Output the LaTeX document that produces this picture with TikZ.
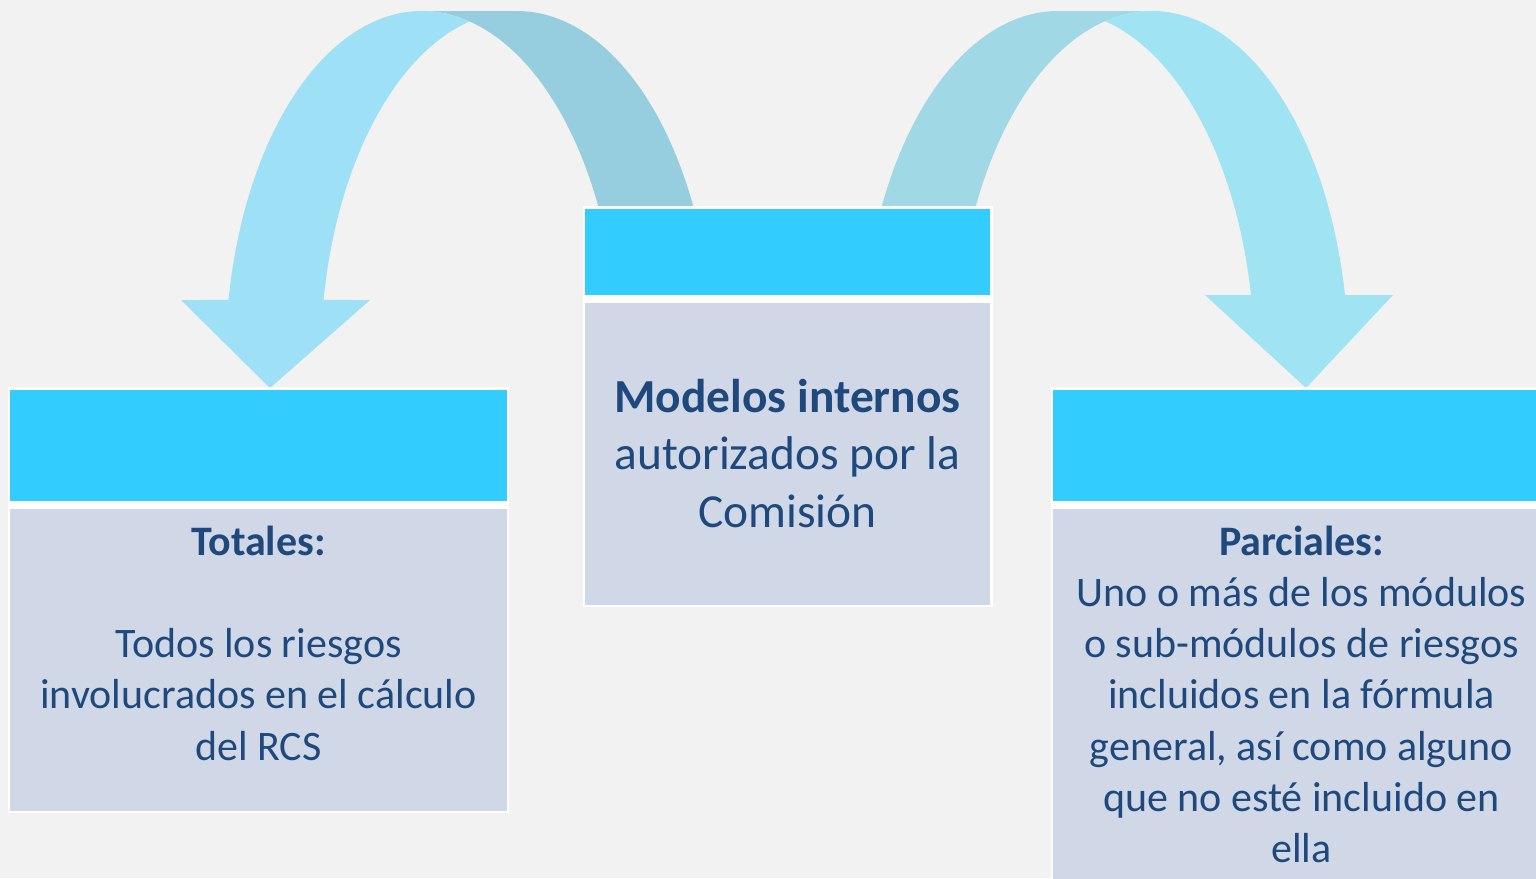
\documentclass[tikz,border=0pt]{standalone}
\usepackage{fontspec}
\setmainfont{Carlito}
\definecolor{bg}{HTML}{F2F2F2}
\definecolor{headc}{HTML}{33CCFF}
\definecolor{bodyc}{HTML}{D0D8E8}
\definecolor{txtc}{HTML}{1F497D}
\definecolor{arrLlight}{HTML}{9EE0F6}
\definecolor{arrLdark}{HTML}{96CEE0}
\definecolor{arrRlight}{HTML}{A0E4F4}
\definecolor{arrRdark}{HTML}{A0D8E6}
\begin{document}
\begin{tikzpicture}[x=0.5pt,y=-0.5pt,
  frame/.style={fill=white},
  head/.style={fill=headc},
  body/.style={fill=bodyc},
  txt/.style={anchor=base, align=flush center, text=txtc, inner sep=0pt},
  smalltxt/.style={font=\fontsize{21}{25.65}\selectfont},
  bigtxt/.style={font=\fontsize{23.7}{28.75}\selectfont},
  arcplot/.style={samples=90, variable=\t}]
\useasboundingbox (0,0) rectangle (1536,878);
\clip (0,0) rectangle (1536,878);
\fill[bg] (0,0) rectangle (1536,878);

% left curved arrow: back (dark) part
\fill[arrLdark] (422,11) -- (517,11)
  -- plot[arcplot, domain=90:13.38] ({517+196.5*cos(\t)},{361-350*sin(\t)})
  -- plot[arcplot, domain=13.38:90] ({422+196.5*cos(\t)},{361-350*sin(\t)})
  -- cycle;
% left curved arrow: front (light) part with head
\fill[arrLlight] plot[arcplot, domain=169.96:76.01] ({422+196.5*cos(\t)},{361-350*sin(\t)})
  -- plot[arcplot, domain=103.99:169.96] ({517+196.5*cos(\t)},{361-350*sin(\t)})
  -- (370,300) -- (270,388) -- (181,300) -- cycle;

% right curved arrow: back (dark) part
\fill[arrRdark] (1152,11) -- (1058,11)
  -- plot[arcplot, domain=90:166.62] ({1058+196.5*cos(\t)},{361-350*sin(\t)})
  -- plot[arcplot, domain=166.62:90] ({1152+196.5*cos(\t)},{361-350*sin(\t)})
  -- cycle;
% right curved arrow: front (light) part with head
\fill[arrRlight] plot[arcplot, domain=103.84:10.87] ({1152+196.5*cos(\t)},{361-350*sin(\t)})
  -- (1393,295) -- (1306,388) -- (1205,295)
  -- plot[arcplot, domain=10.87:76.16] ({1058+196.5*cos(\t)},{361-350*sin(\t)})
  -- cycle;

% left box
\fill[frame] (8,387) rectangle (509,813);
\fill[head] (10,390) rectangle (507,501);
\fill[body] (10,509) rectangle (507,811);
% middle box
\fill[frame] (583,206) rectangle (993,607);
\fill[head] (585,209) rectangle (990,295);
\fill[body] (585,303) rectangle (990,605);
% right box
\fill[frame] (1051,387) rectangle (1560,900);
\fill[head] (1053,390) rectangle (1560,501);
\fill[body] (1053,509) rectangle (1560,900);

\node[txt, smalltxt, text width=240pt] (totales) at (258.5,555)
  {\textbf{Totales:}\\[25.65pt] Todos los riesgos\\ involucrados en el cálculo\\ del RCS};
\node[txt, bigtxt, text width=200pt] (modelos) at (787.5,412)
  {\textbf{Modelos internos}\\ autorizados por la\\ Comisión};
\node[txt, smalltxt, text width=245pt] (parciales) at (1301.5,555)
  {\textbf{Parciales:}\\ Uno o más de los módulos\\ o sub-módulos de riesgos\\ incluidos en la fórmula\\ general, así como alguno\\ que no esté incluido en\\ ella};
\end{tikzpicture}
\end{document}
